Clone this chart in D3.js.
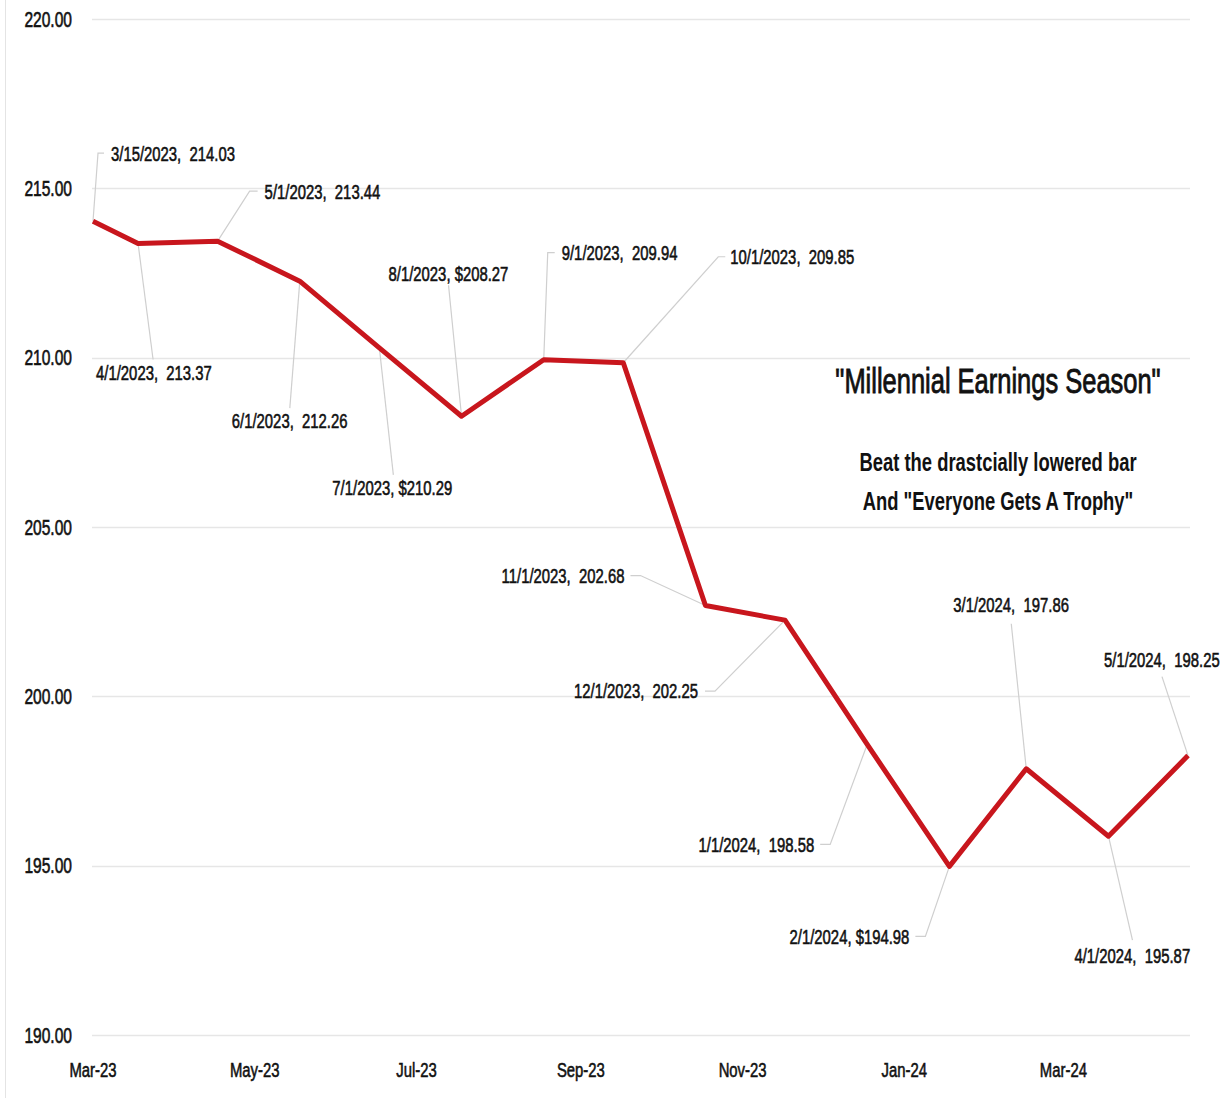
<!DOCTYPE html>
<html><head><meta charset="utf-8">
<script src="https://cdn.jsdelivr.net/npm/d3@7"></script>
<style>html,body{margin:0;padding:0;background:#fff;} svg{display:block;} text{white-space:pre;}</style>
</head><body><svg id="c" width="1230" height="1098"></svg>
<script>
// ---------- data ----------
const dates = ["2023-03-15","2023-04-01","2023-05-01","2023-06-01","2023-07-01","2023-08-01","2023-09-01","2023-10-01","2023-11-01","2023-12-01","2024-01-01","2024-02-01","2024-03-01","2024-04-01","2024-05-01"];
const values = [214.03,213.37,213.44,212.26,210.29,208.27,209.94,209.85,202.68,202.25,198.58,194.98,197.86,195.87,198.25];
const labelDates = ["3/15/2023","4/1/2023","5/1/2023","6/1/2023","7/1/2023","8/1/2023","9/1/2023","10/1/2023","11/1/2023","12/1/2023","1/1/2024","2/1/2024","3/1/2024","4/1/2024","5/1/2024"];
const valuePrefix = ["","","","","$","$","","","","","","$","","",""];
const yTicks = [190,195,200,205,210,215,220];
const xTicks = ["2023-03-15","2023-05-15","2023-07-15","2023-09-15","2023-11-15","2024-01-15","2024-03-15"];
const titleText = '"Millennial Earnings Season"';
const subtitleLines = ['Beat the drastcially lowered bar','And "Everyone Gets A Trophy"'];

// ---------- label layout (pixel offsets from each point) ----------
const labelLayout = [
  {t:[18,-68,'start'],  l:[[5,-68],[11,-68]]},
  {t:[-42,129,'start'], l:[[15,116]]},
  {t:[47,-50,'start'],  l:[[32,-50],[40,-50]]},
  {t:[-68,140,'start'], l:[[-10,127]]},
  {t:[-47,140,'start'], l:[[14,127]]},
  {t:[-73,-143,'start'],l:[[-13,-131]]},
  {t:[18,-107,'start'], l:[[4,-107],[11,-107]]},
  {t:[107,-106,'start'],l:[[95,-106],[102,-106]]},
  {t:[-81,-30,'end'],   l:[[-65,-30],[-75,-30]]},
  {t:[-87,71,'end'],    l:[[-70,71],[-80,71]]},
  {t:[-53,100,'end'],   l:[[-37,100],[-47,100]]},
  {t:[-40,70,'end'],    l:[[-24,70],[-34,70]]},
  {t:[-73,-164,'start'],l:[[-15,-145]]},
  {t:[-34,119,'start'], l:[[24,104]]},
  {t:[-84,-96,'start'], l:[[-26,-79]]}
];

const FONT = '"Liberation Sans Narrow","Liberation Sans",Arial,sans-serif';
const parse = d3.timeParse("%Y-%m-%d");
const svg = d3.select("#c");

const x = d3.scaleTime().domain([parse(dates[0]), parse(dates[dates.length-1])]).range([93,1188]);
const y = d3.scaleLinear().domain([190,220]).range([1035,19]);

// measure condensing factor
const probe = svg.append("text").style("font-family",FONT).style("font-size","21px").text("3/15/2023,  214.03");
const SX = 124 / probe.node().getComputedTextLength();
probe.remove();

function ctext(parent, px, py, str, o) {
  const g = parent.append("g").attr("transform", `translate(${px},${py}) scale(${SX},1)`);
  const t = g.append("text").attr("text-anchor", o.anchor || "start").attr("dy","0.35em")
    .style("font-family",FONT).style("font-size",(o.size||21)+"px")
    .style("font-weight",o.weight||"normal").attr("fill","#111").text(str);
  if (o.stroke) t.attr("stroke","#111").attr("stroke-width",o.stroke);
}

// left border
svg.append("line").attr("x1",5.5).attr("x2",5.5).attr("y1",0).attr("y2",1098).attr("stroke","#e4e4e4");

// gridlines
svg.append("g").selectAll("line").data(yTicks).join("line")
  .attr("x1",92).attr("x2",1190).attr("y1",d=>Math.round(y(d))+0.5).attr("y2",d=>Math.round(y(d))+0.5)
  .attr("stroke","#e6e6e6").attr("stroke-width",1.5);

// y labels
yTicks.forEach(v => ctext(svg, 72, y(v), d3.format(".2f")(v), {anchor:"end", size:22, stroke:0.6}));
// x labels
const fmt = d3.timeFormat("%b-%y");
xTicks.forEach(d => ctext(svg, x(parse(d)), 1070, fmt(parse(d)), {anchor:"middle", size:21, stroke:0.6}));

// leader lines
const pts = dates.map((d,i)=>[x(parse(d)), y(values[i])]);
labelLayout.forEach((L,i)=>{
  const [px,py] = pts[i];
  const p = [[px,py]].concat(L.l.map(q=>[px+q[0],py+q[1]]));
  svg.append("path").attr("d", d3.line()(p)).attr("fill","none").attr("stroke","#cfcfcf").attr("stroke-width",1.2);
});

// main line
svg.append("path").datum(values)
  .attr("d", d3.line().x((v,i)=>x(parse(dates[i]))).y(v=>y(v)))
  .attr("fill","none").attr("stroke","#c8161d").attr("stroke-width",5).attr("stroke-linejoin","round");

// data labels
labelLayout.forEach((L,i)=>{
  const [px,py] = pts[i];
  const sep = valuePrefix[i] ? ", " : ",  ";
  ctext(svg, px+L.t[0], py+L.t[1], labelDates[i] + sep + valuePrefix[i] + d3.format(".2f")(values[i]), {anchor:L.t[2], stroke:0.6});
});

// annotation text
ctext(svg, 998, 380, titleText, {anchor:"middle", size:36, stroke:0.9});
subtitleLines.forEach((s,i)=>ctext(svg, 998, 462 + i*39, s, {anchor:"middle", size:26, weight:"bold"}));
</script></body></html>
